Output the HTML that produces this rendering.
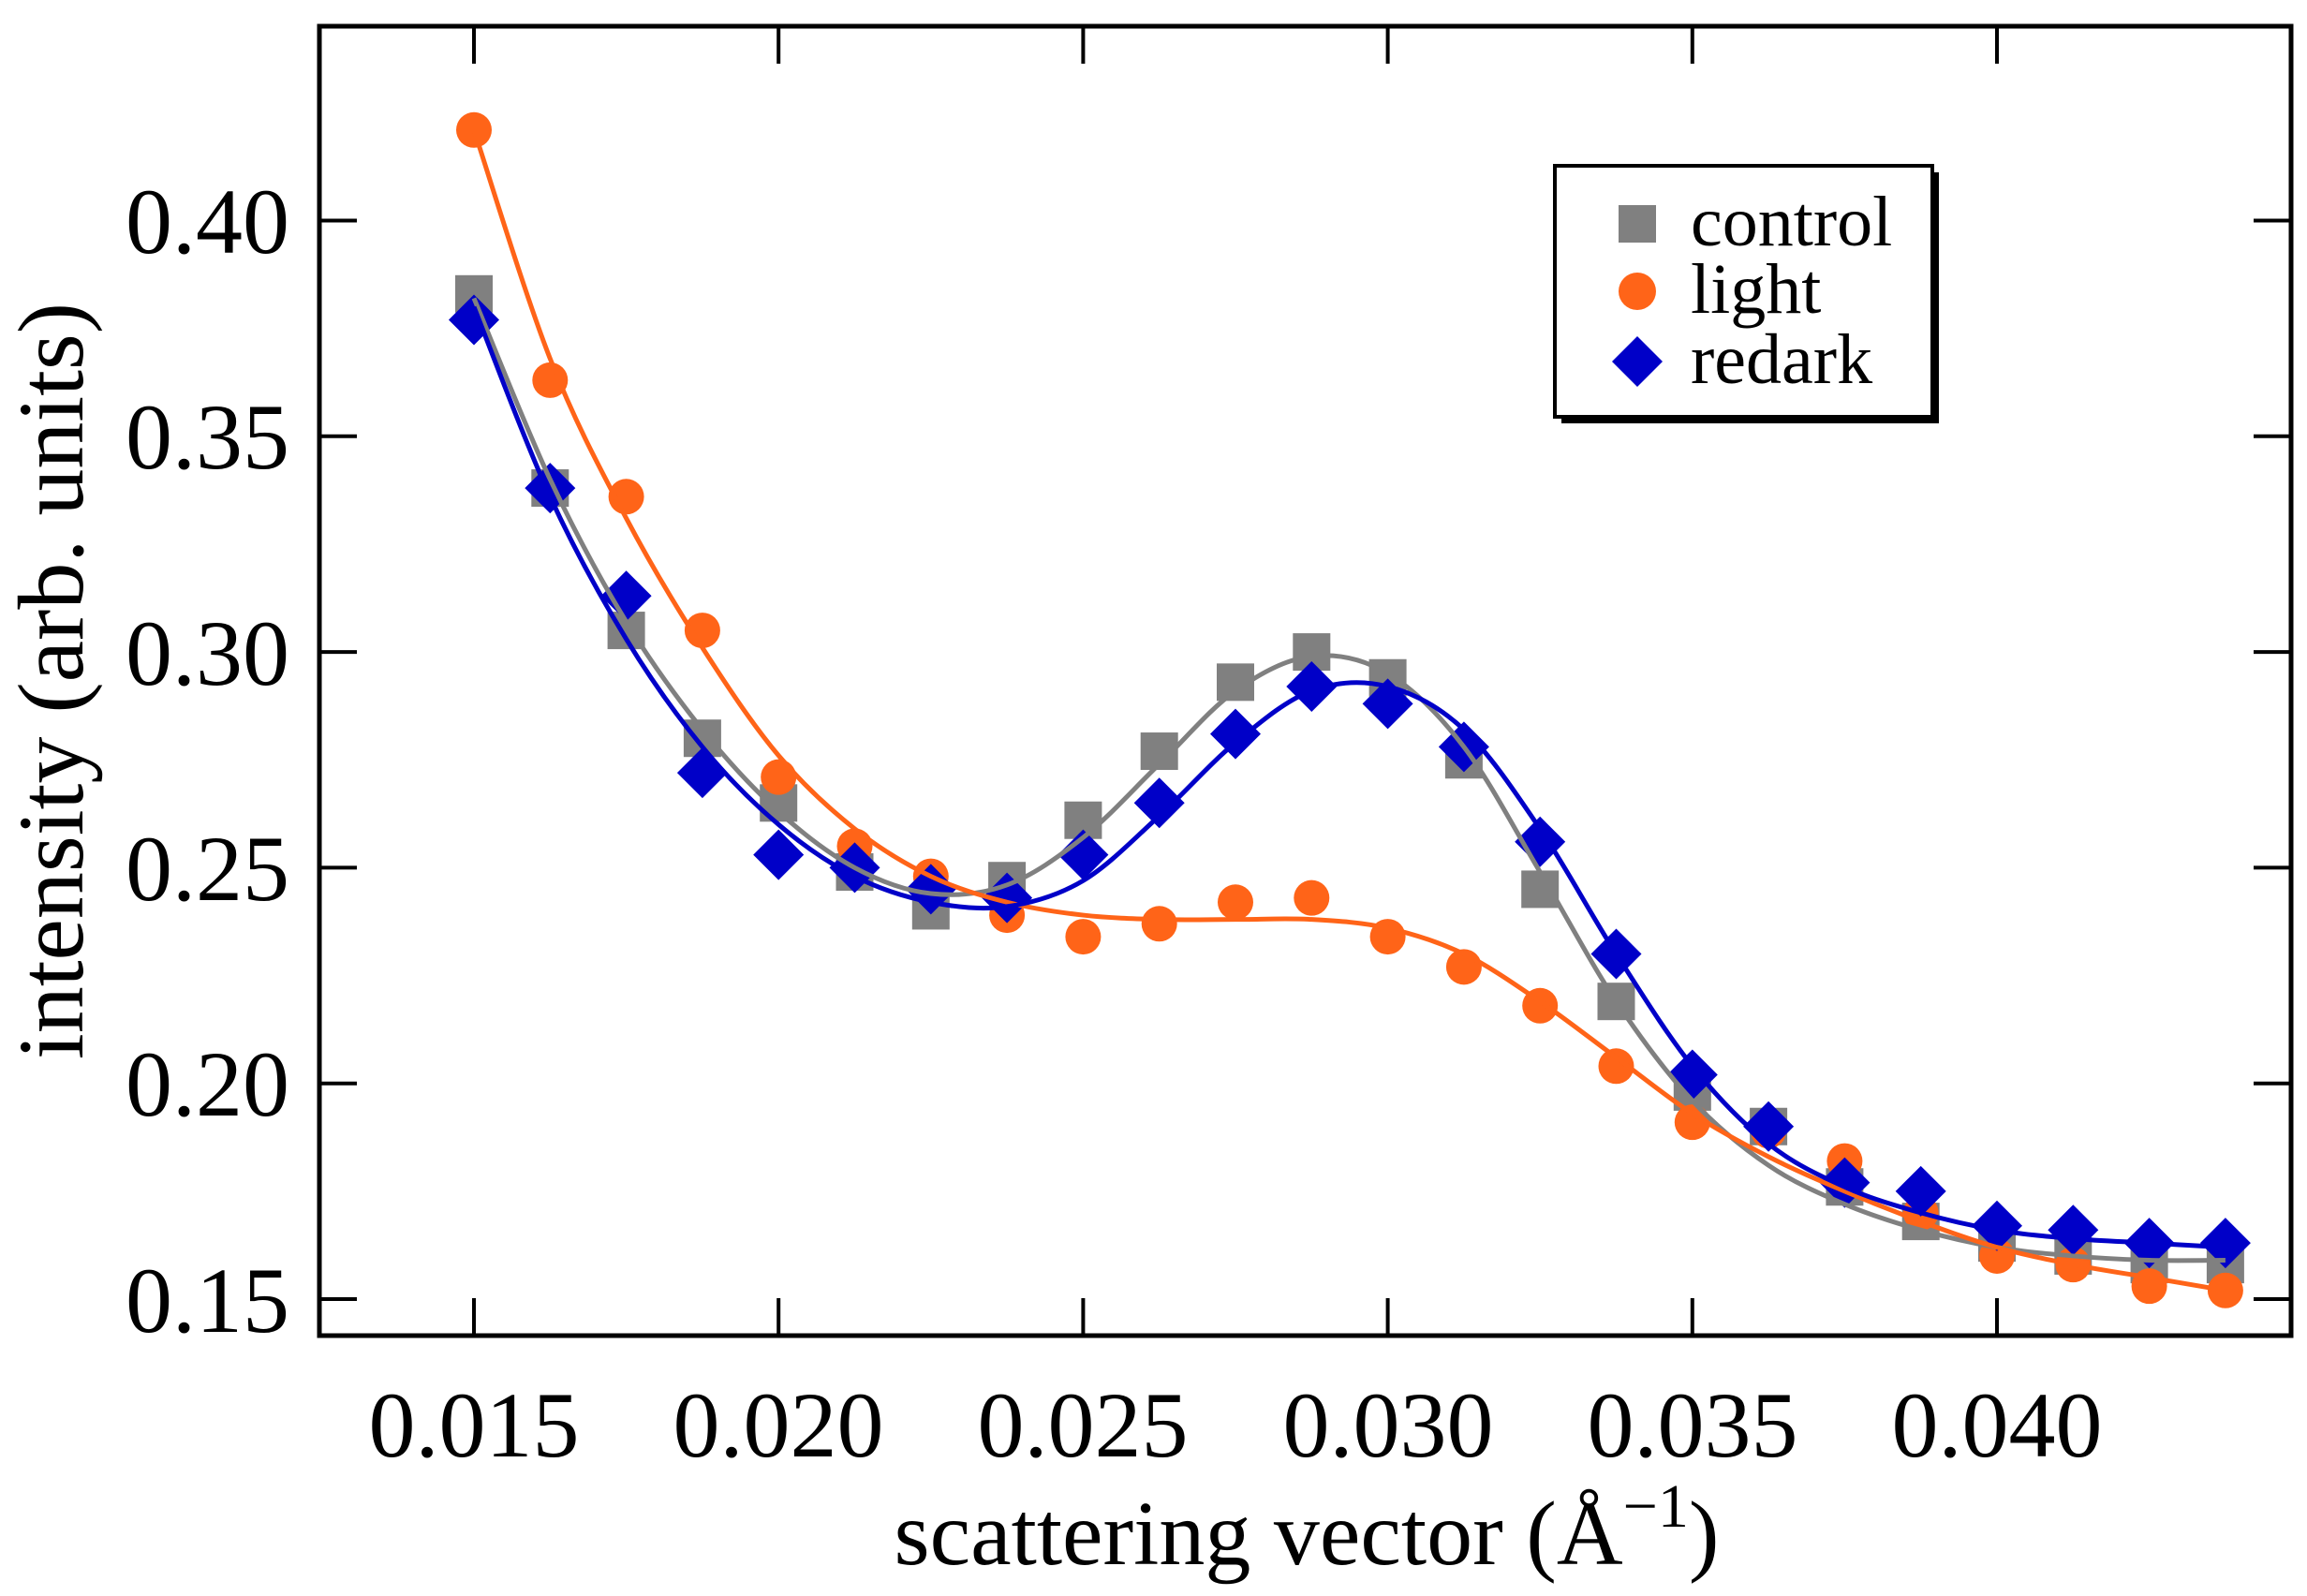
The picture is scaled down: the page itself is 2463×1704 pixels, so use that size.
<!DOCTYPE html>
<html><head><meta charset="utf-8"><style>
html,body{margin:0;padding:0;background:#fff;}
svg{display:block;}
text{font-family:"Liberation Serif",serif;fill:#000;}
</style></head><body>
<svg id="s" width="2463" height="1704" viewBox="0 0 2463 1704" xmlns="http://www.w3.org/2000/svg">
<rect width="2463" height="1704" fill="#fff"/>
<g id="data"></g>
<g id="curves" fill="none" stroke-width="5"></g>
<rect x="341" y="28" width="2105" height="1398" fill="none" stroke="#000" stroke-width="5"/>
<g id="ticks" stroke="#000" stroke-width="4"></g>
<g font-size="100" text-anchor="end">
<text x="309" y="270">0.40</text>
<text x="309" y="500">0.35</text>
<text x="309" y="731">0.30</text>
<text x="309" y="961">0.25</text>
<text x="309" y="1191">0.20</text>
<text x="309" y="1422">0.15</text>
</g>
<g font-size="100" text-anchor="middle">
<text x="506" y="1555">0.015</text>
<text x="831" y="1555">0.020</text>
<text x="1156" y="1555">0.025</text>
<text x="1482" y="1555">0.030</text>
<text x="1807" y="1555">0.035</text>
<text x="2132" y="1555">0.040</text>
</g>
<text x="1395" y="1670" font-size="98" text-anchor="middle">scattering vector (Å<tspan font-size="66" dy="-40">−1</tspan><tspan dy="40">)</tspan></text>
<text transform="translate(88,727) rotate(-90)" font-size="100" text-anchor="middle">intensity (arb. units)</text>
<rect x="1667" y="184" width="403" height="268" fill="#000"/>
<rect x="1660" y="177" width="403" height="268" fill="#fff" stroke="#000" stroke-width="4"/>
<rect x="1728" y="219" width="40" height="40" fill="#808080"/>
<circle cx="1748" cy="311" r="20" fill="#ff6418"/>
<polygon points="1748,359 1775,386 1748,413 1721,386" fill="#0000c8"/>
<g font-size="76"><text x="1805" y="262">control</text><text x="1805" y="334">light</text><text x="1805" y="409">redark</text></g>
</svg>
<script>
var X=function(x){return 506+(x-0.015)/0.005*325.2;};
var Y=function(y){return 1387-(y-0.15)/0.05*230.3;};
var xs=[];for(var k=0;k<24;k++)xs.push(0.015+k*0.00125);
var cP=[0.383,0.338,0.305,0.280,0.265,0.249,0.240,0.247,0.261,0.277,0.293,0.300,0.294,0.275,0.245,0.219,0.198,0.190,0.176,0.168,0.163,0.160,0.158,0.158];
var lP=[0.421,0.363,0.336,0.305,0.271,0.255,0.248,0.239,0.234,0.237,0.242,0.243,0.234,0.227,0.218,0.204,0.191,0.189,0.182,0.170,0.160,0.158,0.153,0.152];
var rP=[0.377,0.338,0.313,0.272,0.253,0.250,0.245,0.243,0.253,0.265,0.281,0.292,0.288,0.278,0.256,0.230,0.202,0.190,0.177,0.175,0.167,0.166,0.163,0.163];
var cC=[0.382,0.340,0.307,0.282,0.263,0.250,0.244,0.246,0.257,0.274,0.291,0.299,0.295,0.278,0.249,0.219,0.196,0.181,0.172,0.166,0.162,0.160,0.159,0.159];
var lC=[0.421,0.368,0.331,0.301,0.276,0.259,0.248,0.242,0.239,0.238,0.238,0.238,0.236,0.230,0.219,0.206,0.193,0.183,0.175,0.168,0.162,0.158,0.155,0.152];
var rC=[0.380,0.336,0.303,0.278,0.260,0.248,0.242,0.241,0.247,0.262,0.279,0.291,0.292,0.282,0.259,0.230,0.204,0.186,0.176,0.170,0.166,0.164,0.163,0.162];
var NS="http://www.w3.org/2000/svg";
function el(t,a,p){var e=document.createElementNS(NS,t);for(var k in a)e.setAttribute(k,a[k]);p.appendChild(e);return e;}
var d=document.getElementById('data'),cv=document.getElementById('curves'),tk=document.getElementById('ticks');
xs.forEach(function(x,i){var px=X(x),py=Y(cP[i]);el('rect',{x:px-20,y:py-20,width:40,height:40,fill:'#808080'},d);});
xs.forEach(function(x,i){el('circle',{cx:X(x),cy:Y(lP[i]),r:19,fill:'#ff6418'},d);});
xs.forEach(function(x,i){var px=X(x),py=Y(rP[i]);el('polygon',{points:px+','+(py-27)+' '+(px+27)+','+py+' '+px+','+(py+27)+' '+(px-27)+','+py,fill:'#0000c8'},d);});
function path(v){var p=xs.map(function(x,i){return[X(x),Y(v[i])];});var s='M'+p[0][0]+','+p[0][1];
for(var i=0;i<p.length-1;i++){var p0=p[i-1]||p[i],p1=p[i],p2=p[i+1],p3=p[i+2]||p2;
s+=' C'+(p1[0]+(p2[0]-p0[0])/6)+','+(p1[1]+(p2[1]-p0[1])/6)+' '+(p2[0]-(p3[0]-p1[0])/6)+','+(p2[1]-(p3[1]-p1[1])/6)+' '+p2[0]+','+p2[1];}return s;}
el('path',{d:path(cC),stroke:'#808080'},cv);
el('path',{d:path(lC),stroke:'#ff6418'},cv);
el('path',{d:path(rC),stroke:'#0000c8'},cv);
[0.15,0.2,0.25,0.3,0.35,0.4].forEach(function(y){var py=Y(y);el('line',{x1:341,y1:py,x2:381,y2:py},tk);el('line',{x1:2446,y1:py,x2:2406,y2:py},tk);});
[0.015,0.02,0.025,0.03,0.035,0.04].forEach(function(x){var px=X(x);el('line',{x1:px,y1:1426,x2:px,y2:1386},tk);el('line',{x1:px,y1:28,x2:px,y2:68},tk);});
</script>
</body></html>
